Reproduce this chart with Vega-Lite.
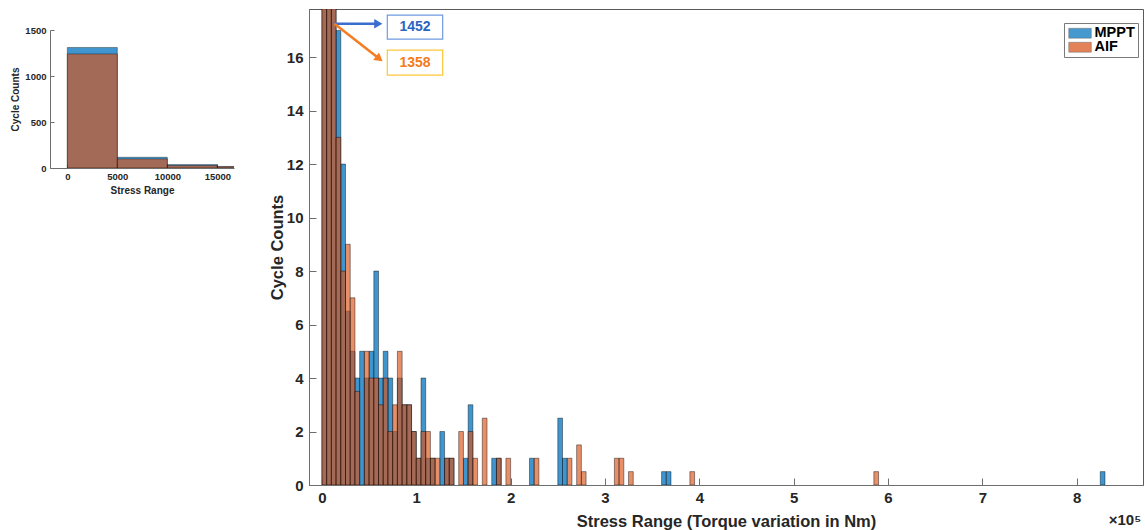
{
  "$schema": "https://vega.github.io/schema/vega-lite/v6.json",
  "padding": {"left": 10, "top": 8, "right": 0, "bottom": 0},
  "spacing": 34,
  "background": "white",
  "config": {
    "view": {"stroke": null},
    "font": "Liberation Sans",
    "axis": {"grid": false, "labelColor": "#262626", "titleColor": "#262626", "labelFontWeight": "bold", "titleFontWeight": "bold", "domainColor": "#6e6e6e", "tickColor": "#6e6e6e"}
  },
  "datasets": {
    "main": [
      {"series": "MPPT", "start": 0, "end": 5000, "count": 1452},
      {"series": "MPPT", "start": 5000, "end": 10000, "count": 117},
      {"series": "MPPT", "start": 10000, "end": 15000, "count": 37},
      {"series": "MPPT", "start": 15000, "end": 20000, "count": 17},
      {"series": "MPPT", "start": 20000, "end": 25000, "count": 12},
      {"series": "MPPT", "start": 25000, "end": 30000, "count": 6.5},
      {"series": "MPPT", "start": 30000, "end": 35000, "count": 5},
      {"series": "MPPT", "start": 35000, "end": 40000, "count": 4},
      {"series": "MPPT", "start": 40000, "end": 45000, "count": 5},
      {"series": "MPPT", "start": 45000, "end": 50000, "count": 4},
      {"series": "MPPT", "start": 50000, "end": 55000, "count": 5},
      {"series": "MPPT", "start": 55000, "end": 60000, "count": 8},
      {"series": "MPPT", "start": 60000, "end": 65000, "count": 4},
      {"series": "MPPT", "start": 65000, "end": 70000, "count": 5},
      {"series": "MPPT", "start": 70000, "end": 75000, "count": 4},
      {"series": "MPPT", "start": 75000, "end": 80000, "count": 2},
      {"series": "MPPT", "start": 80000, "end": 85000, "count": 4},
      {"series": "MPPT", "start": 85000, "end": 90000, "count": 3},
      {"series": "MPPT", "start": 90000, "end": 95000, "count": 3},
      {"series": "MPPT", "start": 95000, "end": 100000, "count": 2},
      {"series": "MPPT", "start": 100000, "end": 105000, "count": 1},
      {"series": "MPPT", "start": 105000, "end": 110000, "count": 4},
      {"series": "MPPT", "start": 110000, "end": 115000, "count": 1},
      {"series": "MPPT", "start": 115000, "end": 120000, "count": 1},
      {"series": "MPPT", "start": 125000, "end": 130000, "count": 2},
      {"series": "MPPT", "start": 130000, "end": 135000, "count": 1},
      {"series": "MPPT", "start": 135000, "end": 140000, "count": 1},
      {"series": "MPPT", "start": 150000, "end": 155000, "count": 1},
      {"series": "MPPT", "start": 155000, "end": 160000, "count": 3},
      {"series": "MPPT", "start": 180000, "end": 185000, "count": 1},
      {"series": "MPPT", "start": 185000, "end": 190000, "count": 1},
      {"series": "MPPT", "start": 220000, "end": 225000, "count": 1},
      {"series": "MPPT", "start": 250000, "end": 255000, "count": 2.5},
      {"series": "MPPT", "start": 255000, "end": 260000, "count": 1},
      {"series": "MPPT", "start": 360000, "end": 365000, "count": 0.5},
      {"series": "MPPT", "start": 365000, "end": 370000, "count": 0.5},
      {"series": "MPPT", "start": 825000, "end": 830000, "count": 0.5},
      {"series": "AIF", "start": 0, "end": 5000, "count": 1358},
      {"series": "AIF", "start": 5000, "end": 10000, "count": 99},
      {"series": "AIF", "start": 10000, "end": 15000, "count": 26},
      {"series": "AIF", "start": 15000, "end": 20000, "count": 13},
      {"series": "AIF", "start": 20000, "end": 25000, "count": 8},
      {"series": "AIF", "start": 25000, "end": 30000, "count": 9},
      {"series": "AIF", "start": 30000, "end": 35000, "count": 7},
      {"series": "AIF", "start": 35000, "end": 40000, "count": 3.5},
      {"series": "AIF", "start": 45000, "end": 50000, "count": 5},
      {"series": "AIF", "start": 50000, "end": 55000, "count": 4},
      {"series": "AIF", "start": 55000, "end": 60000, "count": 4},
      {"series": "AIF", "start": 60000, "end": 65000, "count": 3},
      {"series": "AIF", "start": 65000, "end": 70000, "count": 4},
      {"series": "AIF", "start": 70000, "end": 75000, "count": 2},
      {"series": "AIF", "start": 75000, "end": 80000, "count": 3},
      {"series": "AIF", "start": 80000, "end": 85000, "count": 5},
      {"series": "AIF", "start": 85000, "end": 90000, "count": 3},
      {"series": "AIF", "start": 90000, "end": 95000, "count": 3},
      {"series": "AIF", "start": 95000, "end": 100000, "count": 2},
      {"series": "AIF", "start": 100000, "end": 105000, "count": 1},
      {"series": "AIF", "start": 105000, "end": 110000, "count": 2},
      {"series": "AIF", "start": 110000, "end": 115000, "count": 2},
      {"series": "AIF", "start": 115000, "end": 120000, "count": 1},
      {"series": "AIF", "start": 120000, "end": 125000, "count": 1},
      {"series": "AIF", "start": 130000, "end": 135000, "count": 1},
      {"series": "AIF", "start": 135000, "end": 140000, "count": 1},
      {"series": "AIF", "start": 145000, "end": 150000, "count": 2},
      {"series": "AIF", "start": 155000, "end": 160000, "count": 2},
      {"series": "AIF", "start": 160000, "end": 165000, "count": 1},
      {"series": "AIF", "start": 170000, "end": 175000, "count": 2.5},
      {"series": "AIF", "start": 185000, "end": 190000, "count": 1},
      {"series": "AIF", "start": 195000, "end": 200000, "count": 1},
      {"series": "AIF", "start": 225000, "end": 230000, "count": 1},
      {"series": "AIF", "start": 260000, "end": 265000, "count": 1},
      {"series": "AIF", "start": 270000, "end": 275000, "count": 1.5},
      {"series": "AIF", "start": 275000, "end": 280000, "count": 0.5},
      {"series": "AIF", "start": 310000, "end": 315000, "count": 1},
      {"series": "AIF", "start": 315000, "end": 320000, "count": 1},
      {"series": "AIF", "start": 325000, "end": 330000, "count": 0.5},
      {"series": "AIF", "start": 390000, "end": 395000, "count": 0.5},
      {"series": "AIF", "start": 585000, "end": 590000, "count": 0.5}
    ],
    "inset": [
      {"series": "MPPT", "start": 0, "end": 5000, "count": 1310},
      {"series": "MPPT", "start": 5000, "end": 10000, "count": 117},
      {"series": "MPPT", "start": 10000, "end": 15000, "count": 37},
      {"series": "MPPT", "start": 15000, "end": 20000, "count": 17},
      {"series": "AIF", "start": 0, "end": 5000, "count": 1240},
      {"series": "AIF", "start": 5000, "end": 10000, "count": 99},
      {"series": "AIF", "start": 10000, "end": 15000, "count": 26},
      {"series": "AIF", "start": 15000, "end": 20000, "count": 13}
    ],
    "notes": [
      {"series": "MPPT", "label": "1452", "boxLeft": 69290, "boxRight": 128000, "boxBottom": 16.67, "boxTop": 17.57, "textX": 98650, "textY": 17.12, "arrowX0": 13330, "arrowY0": 17.25, "arrowX1": 59750, "arrowY1": 17.25},
      {"series": "AIF", "label": "1358", "boxLeft": 69290, "boxRight": 128000, "boxBottom": 15.33, "boxTop": 16.26, "textX": 98650, "textY": 15.79, "arrowX0": 13330, "arrowY0": 17.25, "arrowX1": 60860, "arrowY1": 15.94}
    ],
    "unit": [
      {"label": "×10⁵", "x": 851170, "y": -1.31}
    ],
    "blank": [
      {"label": ""}
    ]
  },
  "hconcat": [
    {
      "spacing": 0,
      "vconcat": [
        {
          "width": 184,
          "height": 16,
          "data": {"name": "blank"},
          "mark": {"type": "text"},
          "encoding": {"text": {"field": "label"}}
        },
        {
          "width": 184,
          "height": 138,
          "data": {"name": "inset"},
          "mark": {"type": "bar", "clip": true, "stroke": "#000000", "strokeWidth": 0.5, "strokeOpacity": 0.7},
          "encoding": {
            "x": {"field": "start", "type": "quantitative", "scale": {"domain": [-1733, 16667], "nice": false, "zero": false},
              "axis": {"values": [0, 5000, 10000, 15000], "format": "d", "title": "Stress Range", "labelFontSize": 9.5, "titleFontSize": 10, "tickSize": -4, "labelPadding": 7, "titlePadding": 5, "labelFlush": false}},
            "x2": {"field": "end"},
            "y": {"field": "count", "type": "quantitative", "stack": null, "scale": {"domain": [0, 1500], "nice": false},
              "axis": {"values": [0, 500, 1000, 1500], "format": "d", "title": "Cycle Counts", "labelFontSize": 9.5, "titleFontSize": 10, "tickSize": -4, "labelPadding": 8, "titlePadding": 4}},
            "y2": {"datum": 0},
            "color": {"field": "series", "type": "nominal", "scale": {"domain": ["MPPT", "AIF"], "range": ["#0072BD", "#D95319"]}, "legend": null},
            "fillOpacity": {"condition": {"test": "datum.series === 'AIF'", "value": 0.65}, "value": 0.75}
          }
        }
      ]
    },
    {
      "width": 834,
      "height": 476,
      "view": {"stroke": "#5a5a5a", "strokeWidth": 1},
      "layer": [
        {
          "data": {"name": "main"},
          "mark": {"type": "bar", "clip": true, "stroke": "#000000", "strokeWidth": 0.6, "strokeOpacity": 0.7},
          "encoding": {
            "x": {"field": "start", "type": "quantitative", "title": "Stress Range (Torque variation in Nm)", "scale": {"domain": [-13700, 870300], "nice": false, "zero": false},
              "axis": {"values": [0, 100000, 200000, 300000, 400000, 500000, 600000, 700000, 800000], "labelExpr": "datum.value / 100000", "labelFontSize": 15, "titleFontSize": 16.5, "tickSize": -7, "labelPadding": 12, "titlePadding": 8, "labelFlush": false}},
            "x2": {"field": "end"},
            "y": {"field": "count", "type": "quantitative", "title": "Cycle Counts", "stack": null, "scale": {"domain": [0, 17.8], "nice": false},
              "axis": {"values": [0, 2, 4, 6, 8, 10, 12, 14, 16], "labelFontSize": 15, "titleFontSize": 16.5, "tickSize": -7, "labelPadding": 13, "titlePadding": 1}},
            "y2": {"datum": 0},
            "color": {"field": "series", "type": "nominal", "scale": {"domain": ["MPPT", "AIF"], "range": ["#0072BD", "#D95319"]},
              "legend": {"title": null, "orient": "none", "legendX": 755, "legendY": 14, "padding": 3, "strokeColor": "#7a7a7a", "fillColor": "white", "symbolType": "M-1,-0.9H3.1V0.9H-1Z", "symbolSize": 121, "symbolOpacity": 0.72, "symbolStrokeColor": "#333333", "symbolStrokeWidth": 0.5, "labelFontSize": 14.5, "labelFontWeight": "bold", "labelColor": "#000000", "labelOffset": 13, "rowPadding": -2}},
            "fillOpacity": {"condition": {"test": "datum.series === 'AIF'", "value": 0.65}, "value": 0.75}
          }
        },
        {
          "data": {"name": "notes"},
          "mark": {"type": "rect", "fill": "white", "strokeWidth": 1.2},
          "encoding": {
            "x": {"field": "boxLeft", "type": "quantitative", "title": "Stress Range (Torque variation in Nm)"},
            "x2": {"field": "boxRight"},
            "y": {"field": "boxBottom", "type": "quantitative", "title": "Cycle Counts"},
            "y2": {"field": "boxTop"},
            "stroke": {"condition": {"test": "datum.series === 'MPPT'", "value": "#6f9be0"}, "value": "#ffc63a"}
          }
        },
        {
          "data": {"name": "notes"},
          "mark": {"type": "rule", "strokeWidth": 2.5},
          "encoding": {
            "x": {"field": "arrowX0", "type": "quantitative", "title": "Stress Range (Torque variation in Nm)"},
            "x2": {"field": "arrowX1"},
            "y": {"field": "arrowY0", "type": "quantitative", "title": "Cycle Counts"},
            "y2": {"field": "arrowY1"},
            "stroke": {"condition": {"test": "datum.series === 'MPPT'", "value": "#3a6fd0"}, "value": "#f57c22"}
          }
        },
        {
          "data": {"name": "notes"},
          "mark": {"type": "point", "shape": "triangle-up", "filled": true, "size": 90, "opacity": 1},
          "encoding": {
            "x": {"field": "arrowX1", "type": "quantitative", "title": "Stress Range (Torque variation in Nm)"},
            "y": {"field": "arrowY1", "type": "quantitative", "title": "Cycle Counts"},
            "angle": {"condition": {"test": "datum.series === 'MPPT'", "value": 90}, "value": 127.6},
            "fill": {"condition": {"test": "datum.series === 'MPPT'", "value": "#3a6fd0"}, "value": "#f57c22"}
          }
        },
        {
          "data": {"name": "notes"},
          "mark": {"type": "text", "fontSize": 14, "fontWeight": "bold", "align": "center", "baseline": "middle"},
          "encoding": {
            "x": {"field": "textX", "type": "quantitative", "title": "Stress Range (Torque variation in Nm)"},
            "y": {"field": "textY", "type": "quantitative", "title": "Cycle Counts"},
            "text": {"field": "label"},
            "fill": {"condition": {"test": "datum.series === 'MPPT'", "value": "#2a66c0"}, "value": "#f47b20"}
          }
        },
        {
          "data": {"name": "unit"},
          "mark": {"type": "text", "fontSize": 15, "fontWeight": "bold", "align": "center", "baseline": "middle", "color": "#262626", "clip": false},
          "encoding": {
            "x": {"field": "x", "type": "quantitative", "title": "Stress Range (Torque variation in Nm)"},
            "y": {"field": "y", "type": "quantitative", "title": "Cycle Counts"},
            "text": {"field": "label"}
          }
        }
      ]
    }
  ],
  "resolve": {"scale": {"color": "independent", "x": "independent", "y": "independent"}, "legend": {"color": "independent"}}
}
